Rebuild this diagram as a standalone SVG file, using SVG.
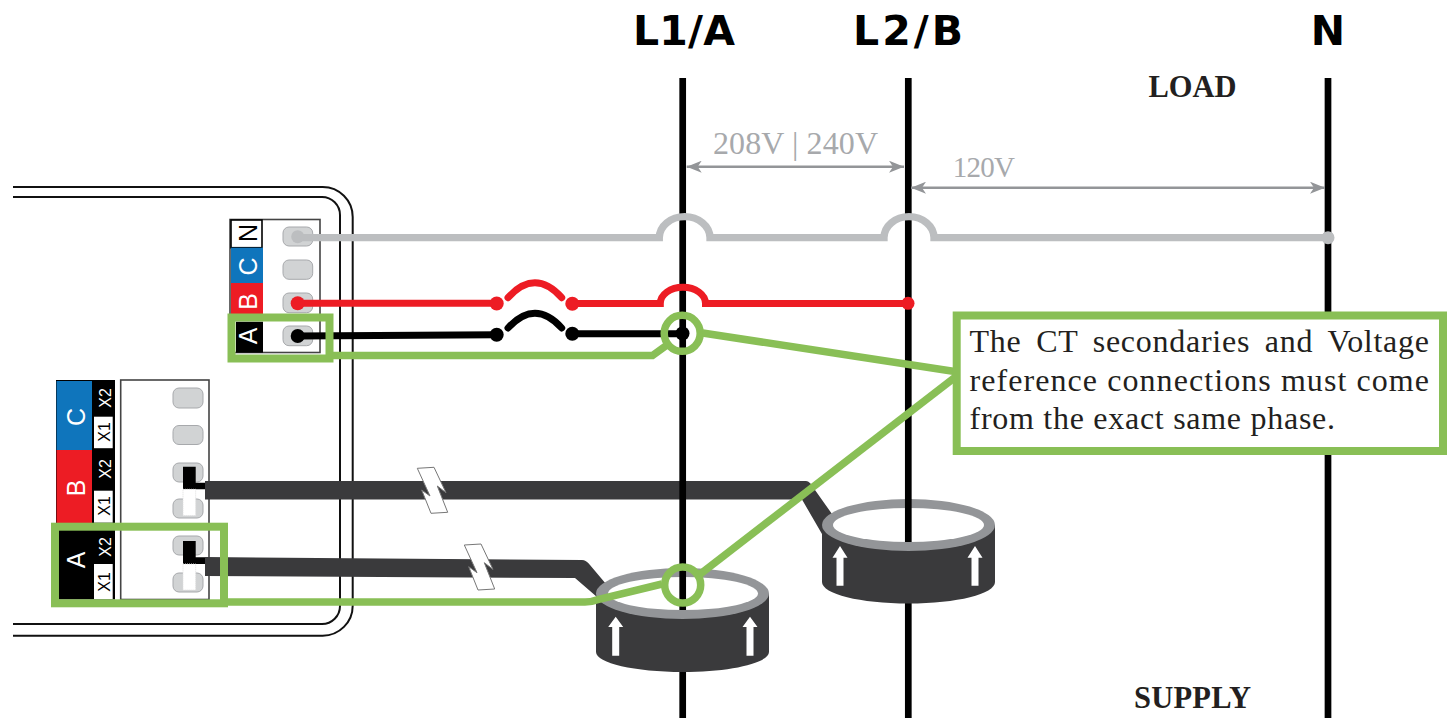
<svg xmlns="http://www.w3.org/2000/svg" width="1453" height="719" viewBox="0 0 1453 719">
<defs>
<marker id="ah" markerWidth="16" markerHeight="12" refX="15" refY="6" orient="auto-start-reverse" markerUnits="userSpaceOnUse"><path d="M0 0L15 6L0 12L4 6Z" fill="#939598"/></marker>
</defs>
<style>
.t{font-family:"Liberation Serif",serif}
.h{font-family:"DejaVu Sans",sans-serif;font-weight:700;font-size:41px;fill:#000}
.s{font-family:"Liberation Sans",sans-serif;fill:#fff}
.big{font-size:25px}
.sm{font-size:16px}
.dk{fill:#000}
.c{fill:#231f20;font-size:32px}
.v{fill:#a7a9ac;font-size:32px}
.v2{fill:#a7a9ac;font-size:29px}
.lb{fill:#231f20;font-size:30.500px;font-weight:700}
.pin{fill:#d1d3d4;stroke:#a7a9ac;stroke-width:1}
.gr{fill:none;stroke:#89bf56;stroke-width:7.500}
.w{fill:none}
.arrow{fill:#fff}
.bar{fill:#3a3a3c}
.bolt{fill:#fff;stroke:#777;stroke-width:1}
.ws{fill:#fff;stroke:#ddd;stroke-dasharray:1 1}
.ring{fill:#939598}
.bl{stroke:#000;stroke-width:6.700}
</style>
<rect width="1453" height="719" fill="#fff"/>
<g id="enclosure" fill="none" stroke="#111" stroke-width="2">
<path d="M13 187H322.700a30 30 0 0 1 30 30V605.700a30 30 0 0 1-30 30H13"/>
<path d="M13 197H322a18 18 0 0 1 18 18V606a18 18 0 0 1-18 18H13"/>
</g>
<g id="voltage-block">
<rect x="230" y="219.500" width="90" height="133" fill="#fff" stroke="#444" stroke-width="1.600"/>
<rect x="231" y="220" width="31" height="27.700" fill="#fff" stroke="#000" stroke-width="1.600"/>
<rect x="231" y="247.700" width="32" height="35.300" fill="#0f75bc"/>
<rect x="231" y="283" width="32" height="34" fill="#ed1c24"/>
<rect x="236" y="321.700" width="27" height="31" fill="#000"/>
<text class="s big dk" transform="translate(257 233) rotate(-90)" text-anchor="middle">N</text>
<text class="s big" transform="translate(257 266.500) rotate(-90)" text-anchor="middle">C</text>
<text class="s big" transform="translate(257 301.500) rotate(-90)" text-anchor="middle">B</text>
<text class="s big" transform="translate(257 336) rotate(-90)" text-anchor="middle">A</text>
<rect class="pin" x="283" y="227" width="29.700" height="19" rx="6"/>
<rect class="pin" x="283" y="260" width="29.700" height="19.300" rx="6"/>
<rect class="pin" x="283" y="293" width="29.700" height="19.700" rx="6"/>
<rect class="pin" x="283" y="326" width="29.700" height="19.700" rx="6"/>
</g>
<g id="ct-block">
<rect x="120.700" y="380" width="88.300" height="219.500" fill="#fff" stroke="#444" stroke-width="1.600"/>
<rect x="56" y="380" width="59" height="219.500" fill="#000"/>
<rect x="56.500" y="381" width="35.500" height="69" fill="#0f75bc"/>
<rect x="56.500" y="450" width="35.500" height="73" fill="#ed1c24"/>
<rect x="94" y="416.700" width="18.700" height="31.500" fill="#fff"/>
<rect x="94" y="490.700" width="18.700" height="32" fill="#fff"/>
<rect x="94" y="564" width="18.700" height="35" fill="#fff"/>
<text class="s big" transform="translate(85 417) rotate(-90)" text-anchor="middle">C</text>
<text class="s big" transform="translate(85 488) rotate(-90)" text-anchor="middle">B</text>
<text class="s big" transform="translate(85 560) rotate(-90)" text-anchor="middle">A</text>
<text class="s sm" transform="translate(110.500 398) rotate(-90)" text-anchor="middle">X2</text>
<text class="s sm dk" transform="translate(110 432) rotate(-90)" text-anchor="middle">X1</text>
<text class="s sm" transform="translate(110.500 469) rotate(-90)" text-anchor="middle">X2</text>
<text class="s sm dk" transform="translate(110 506) rotate(-90)" text-anchor="middle">X1</text>
<text class="s sm" transform="translate(110.500 547) rotate(-90)" text-anchor="middle">X2</text>
<text class="s sm dk" transform="translate(110 582) rotate(-90)" text-anchor="middle">X1</text>
<rect class="pin" x="173" y="388" width="30" height="20" rx="6"/>
<rect class="pin" x="173" y="425.500" width="30" height="19" rx="6"/>
<rect class="pin" x="173" y="463" width="30" height="19" rx="6"/>
<rect class="pin" x="173" y="499" width="30" height="19" rx="6"/>
<rect class="pin" x="173" y="536" width="30" height="19" rx="6"/>
<rect class="pin" x="173" y="573" width="30" height="19" rx="6"/>
</g>
<g id="connectors">
<path class="bar" d="M205 481H806Q810 481 815 490L832 514L822 534L802 499.500H205Z"/>
<path class="dk" d="M183 466.700H195.700V482.700H205V489.300H183Z"/>
<path class="ws" d="M183 489.300H195.700V515.600H183Z"/>
<path class="bar" d="M205 557L582 560Q586 560 590 565L606 584L597 597L575 578L205 576Z"/>
<path class="dk" d="M183 541H195.700V557.300H205V564H183Z"/>
<path class="ws" d="M183 564H195.700V590H183Z"/>
<path class="bolt" d="M417.300 468.300L434 467.300L446 492.700L437.300 486L447.700 512.300L431 513.300L421.700 490L430 496Z"/>
<path class="bolt" d="M464.300 545L481 544L493 569.400L484.300 562.700L494.700 589L478 590L468.700 566.700L477 572.700Z"/>
<path class="w bl" d="M682.700 78V718"/>
<path class="w bl" d="M908.300 78V718"/>
<path class="w bl" d="M1328 78V718"/>
<path class="w" d="M297 237.700H659.300a25.300 21 0 0 1 50.700 0H884a25 21 0 0 1 50 0H1328" stroke="#bcbec0" stroke-width="7.300"/>
<circle cx="297.700" cy="236.700" r="6.500" fill="#bcbec0"/><circle cx="1328" cy="237.700" r="6.500" fill="#bcbec0"/>
<path class="w" d="M297.700 303.300H496.700M572.300 303.500H660.300a22.600 16.300 0 0 1 45.200 0H908" stroke="#ed1c24" stroke-width="7"/>
<path class="w" d="M508 297.700Q535 268 561.700 297.700" stroke="#ed1c24" stroke-width="7" stroke-linecap="round"/>
<g fill="#ed1c24"><circle cx="297.700" cy="303.300" r="7"/><circle cx="496.700" cy="303.500" r="7"/><circle cx="572.300" cy="303.700" r="7"/><circle cx="908" cy="303.300" r="6.500"/></g>
<path class="w" d="M297.700 336L496.700 334.700M572.300 333.700H682.500" stroke="#000" stroke-width="7"/>
<path class="w" d="M508 328Q535 298.600 561.700 328" stroke="#000" stroke-width="7" stroke-linecap="round"/>
<g fill="#000"><circle cx="297.700" cy="336" r="7"/><circle cx="496.700" cy="334.700" r="7"/><circle cx="572.300" cy="333.700" r="7"/><circle cx="682.500" cy="333.500" r="7"/></g>
<path class="w" d="M686.700 166.700H904" stroke="#939598" stroke-width="2.500" marker-start="url(#ah)" marker-end="url(#ah)"/>
<path class="w" d="M911 187.700H1325" stroke="#939598" stroke-width="2.500" marker-start="url(#ah)" marker-end="url(#ah)"/>
</g>
<g id="ct-a">
<path class="bar" d="M596 593.500V652C596 663 635 672 682.500 672S769 663 769 652V593.500Z"/>
<ellipse class="ring" cx="682.500" cy="593.500" rx="86.500" ry="25.500"/>
<ellipse cx="683" cy="593.500" rx="75" ry="16.500" fill="#fff"/>
<path class="w bl" d="M682.700 568V610"/>
<path class="arrow" d="M615.700 616.700L623.200 627H619.200V655.700H612.200V627H608.200Z"/>
<path class="arrow" d="M750 616.700L757.500 627H753.500V655.700H746.500V627H742.500Z"/>
</g>
<g id="ct-b">
<path class="bar" d="M822 525V582C822 594 860 603.500 908.500 603.500S995 594 995 582V525Z"/>
<ellipse class="ring" cx="908.500" cy="525" rx="86.500" ry="26"/>
<ellipse cx="908.500" cy="525" rx="75.500" ry="17" fill="#fff"/>
<path class="w bl" d="M908.300 499V542"/>
<path class="arrow" d="M840 546L847.500 557.700H843.500V585.700H836.500V557.700H832.500Z"/>
<path class="arrow" d="M975 546L982.500 557.700H978.500V585.700H971.500V557.700H967.500Z"/>
</g>
<g id="callout-links">
<rect class="gr" x="231.500" y="317.500" width="98" height="41" style="stroke-width:8px"/>
<path class="gr" d="M329 355.500H652.500L667 345"/>
<circle class="gr" cx="682.200" cy="333.300" r="18"/>
<path class="gr" d="M702.700 333L958 372"/>
<rect class="gr" x="55" y="526.700" width="169" height="76.600" style="stroke-width:8px"/>
<path class="gr" d="M224 602H585Q592 602 600 599L662 584"/>
<circle class="gr" cx="682.700" cy="585" r="18"/>
<path class="gr" d="M699 575L958 375"/>
</g>
<g id="callout">
<rect x="956.700" y="315.500" width="486.300" height="135.500" fill="#fff" stroke="#89bf56" stroke-width="8"/>
<text class="t c" x="969.500" y="351.700" textLength="459.500" word-spacing="6">The CT secondaries and Voltage</text>
<text class="t c" x="969.500" y="390.700" textLength="459.500">reference connections must come</text>
<text class="t c" x="969.500" y="429.300" textLength="365.500">from the exact same phase.</text>
</g>
<g id="labels">
<text class="h" x="633" y="45" textLength="102">L1/A</text>
<text class="h" x="853" y="45" textLength="110">L2/B</text>
<text class="h" x="1328" y="45" text-anchor="middle">N</text>
<text class="t lb" x="1192.500" y="97" text-anchor="middle">LOAD</text>
<text class="t lb" x="1192.500" y="708" text-anchor="middle" textLength="117">SUPPLY</text>
<text class="t v" x="713" y="154" textLength="165">208V | 240V</text>
<text class="t v2" x="952.700" y="176.700" textLength="62.300">120V</text>
</g>
</svg>
